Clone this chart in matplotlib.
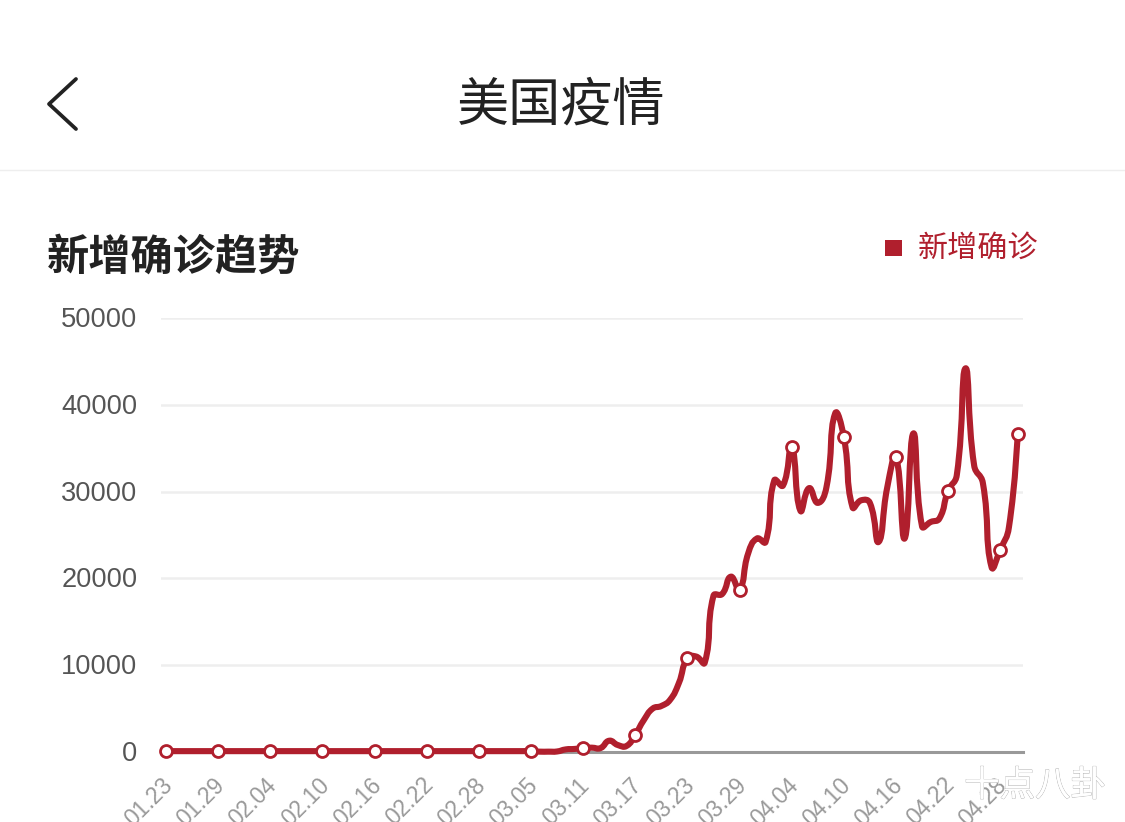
import matplotlib
matplotlib.use("Agg")
import matplotlib.pyplot as plt
import matplotlib.patheffects as pe
from matplotlib.lines import Line2D
from matplotlib.path import Path
from matplotlib.patches import PathPatch, Rectangle
from matplotlib.transforms import ScaledTranslation

W, H = 1125, 822
RED = "#b01f2d"
CJK = ["Noto Sans CJK SC", "DejaVu Sans"]

title = "美国疫情"
subtitle = "新增确诊趋势"
legend_label = "新增确诊"
watermark = "十点八卦"

# daily new cases, 01.23 to 04.30 (one value per day)
early = [100] * 43
cases = early + [
    40, 40, 60, 300, 350, 450, 500, 450, 1300, 800, 700, 2000,
    3700, 5000, 5300, 6000, 7900, 10800, 11000, 10300, 18000, 18200, 20200, 18700,
    22900, 24600, 24200, 31300, 30700, 35100, 27800, 30400, 28700, 30500, 39000, 36300,
    28200, 29000, 28700, 24200, 30500, 34000, 24600, 36700, 26000, 26500, 26900, 30100,
    31900, 44200, 33000, 31000, 21300, 23300, 25900, 36600,
]
days = list(range(len(cases)))
tick_days = list(range(0, 97, 6))
tick_labels = ["01.23", "01.29", "02.04", "02.10", "02.16", "02.22", "02.28", "03.05", "03.11",
               "03.17", "03.23", "03.29", "04.04", "04.10", "04.16", "04.22", "04.28"]
y_ticks = [0, 10000, 20000, 30000, 40000, 50000]
marker_days = tick_days + [days[-1]]


def smooth_path(xs, ys, smooth=0.5, yscale=1 / 1000):
    # bezier through every data point, same idea as echarts smooth lines
    verts = [(xs[0], ys[0])]
    codes = [Path.MOVETO]
    out = (xs[0], ys[0])
    for i in range(1, len(xs)):
        if i < len(xs) - 1:
            vx = (xs[i + 1] - xs[i - 1]) * smooth
            vy = (ys[i + 1] - ys[i - 1]) * smooth
            d1 = ((xs[i] - xs[i - 1]) ** 2 + ((ys[i] - ys[i - 1]) * yscale) ** 2) ** 0.5
            d2 = ((xs[i + 1] - xs[i]) ** 2 + ((ys[i + 1] - ys[i]) * yscale) ** 2) ** 0.5
            r = d1 / (d1 + d2)
            c_in = (xs[i] - vx * r, ys[i] - vy * r)
            c_out = (xs[i] + vx * (1 - r), ys[i] + vy * (1 - r))
        else:
            c_in = c_out = (xs[i], ys[i])
        verts += [out, c_in, (xs[i], ys[i])]
        codes += [Path.CURVE4] * 3
        out = c_out
    return Path(verts, codes)


fig = plt.figure(figsize=(W / 100, H / 100), dpi=100, facecolor="white")
left, right, top, bottom = 161, 1023, 318, 752
day_px = 8.69
ax = fig.add_axes([left / W, 1 - bottom / H, (right - left) / W, (bottom - top) / H])
ax.set_xlim((left - 166) / day_px, (right - 166) / day_px)
ax.set_ylim(0, 50000)
ax.patch.set_visible(False)
for s in ["top", "right", "left"]:
    ax.spines[s].set_visible(False)
ax.spines["bottom"].set_color("#999999")
ax.spines["bottom"].set_linewidth(2.2)

ax.set_yticks(y_ticks)
ax.set_yticklabels([str(v) for v in y_ticks], fontsize=19.6, color="#555555", family="Liberation Sans")
ax.tick_params(axis="y", length=0, pad=17)
ax.grid(axis="y", color="#eeeeee", lw=1.8)
ax.set_axisbelow(True)
for lab in ax.get_yticklabels():
    lab.set_transform(lab.get_transform() + ScaledTranslation(0, 1 / 100, fig.dpi_scale_trans))

ax.set_xticks(tick_days)
ax.set_xticklabels(tick_labels, fontsize=16.5, color="#999999", family="Liberation Sans",
                   rotation=45, ha="right", rotation_mode="anchor")
ax.tick_params(axis="x", length=0, pad=14)
for lab in ax.get_xticklabels():
    lab.set_transform(lab.get_transform() + ScaledTranslation(-5 / 100, -2 / 100, fig.dpi_scale_trans))

ax.add_patch(PathPatch(smooth_path(days, cases), fc="none", ec=RED, lw=4.4, clip_on=False,
                       capstyle="round", joinstyle="round", zorder=3))
ax.plot(marker_days, [cases[d] for d in marker_days], ls="none", marker="o", ms=8.6, mfc="white",
        mec=RED, mew=2.0, clip_on=False, zorder=4)


def px(x, y):
    return x / W, 1 - y / H


# header
fig.text(*px(561, 106), title, family=CJK, fontsize=37.5, color="#222222", ha="center", va="center")
fig.add_artist(Line2D([76 / W, 49 / W, 76 / W], [1 - 79 / H, 1 - 104 / H, 1 - 129 / H], color="#222222",
                      lw=2.7, solid_capstyle="round", solid_joinstyle="round"))
fig.add_artist(Line2D([0, 1], [1 - 170 / H] * 2, color="#eeeeee", lw=1))

# subtitle and legend
fig.text(*px(47, 258), subtitle, family=CJK, fontsize=30.4, fontweight="bold", color="#222222",
         ha="left", va="center")
fig.add_artist(Rectangle(px(885, 256), 17 / W, 16 / H, color=RED, lw=0))
fig.text(*px(918, 248), legend_label, family=CJK, fontsize=21.7, color=RED, ha="left", va="center")

# watermark sits over the last tick label
fig.text(*px(1035, 786), watermark, family=CJK, fontsize=25.5, color="white", ha="center", va="center",
         zorder=10, path_effects=[pe.withStroke(linewidth=0.7, foreground="#aaaaaa"), pe.Normal()])

fig.savefig("out.png", dpi=100, facecolor="white")
plt.close(fig)
